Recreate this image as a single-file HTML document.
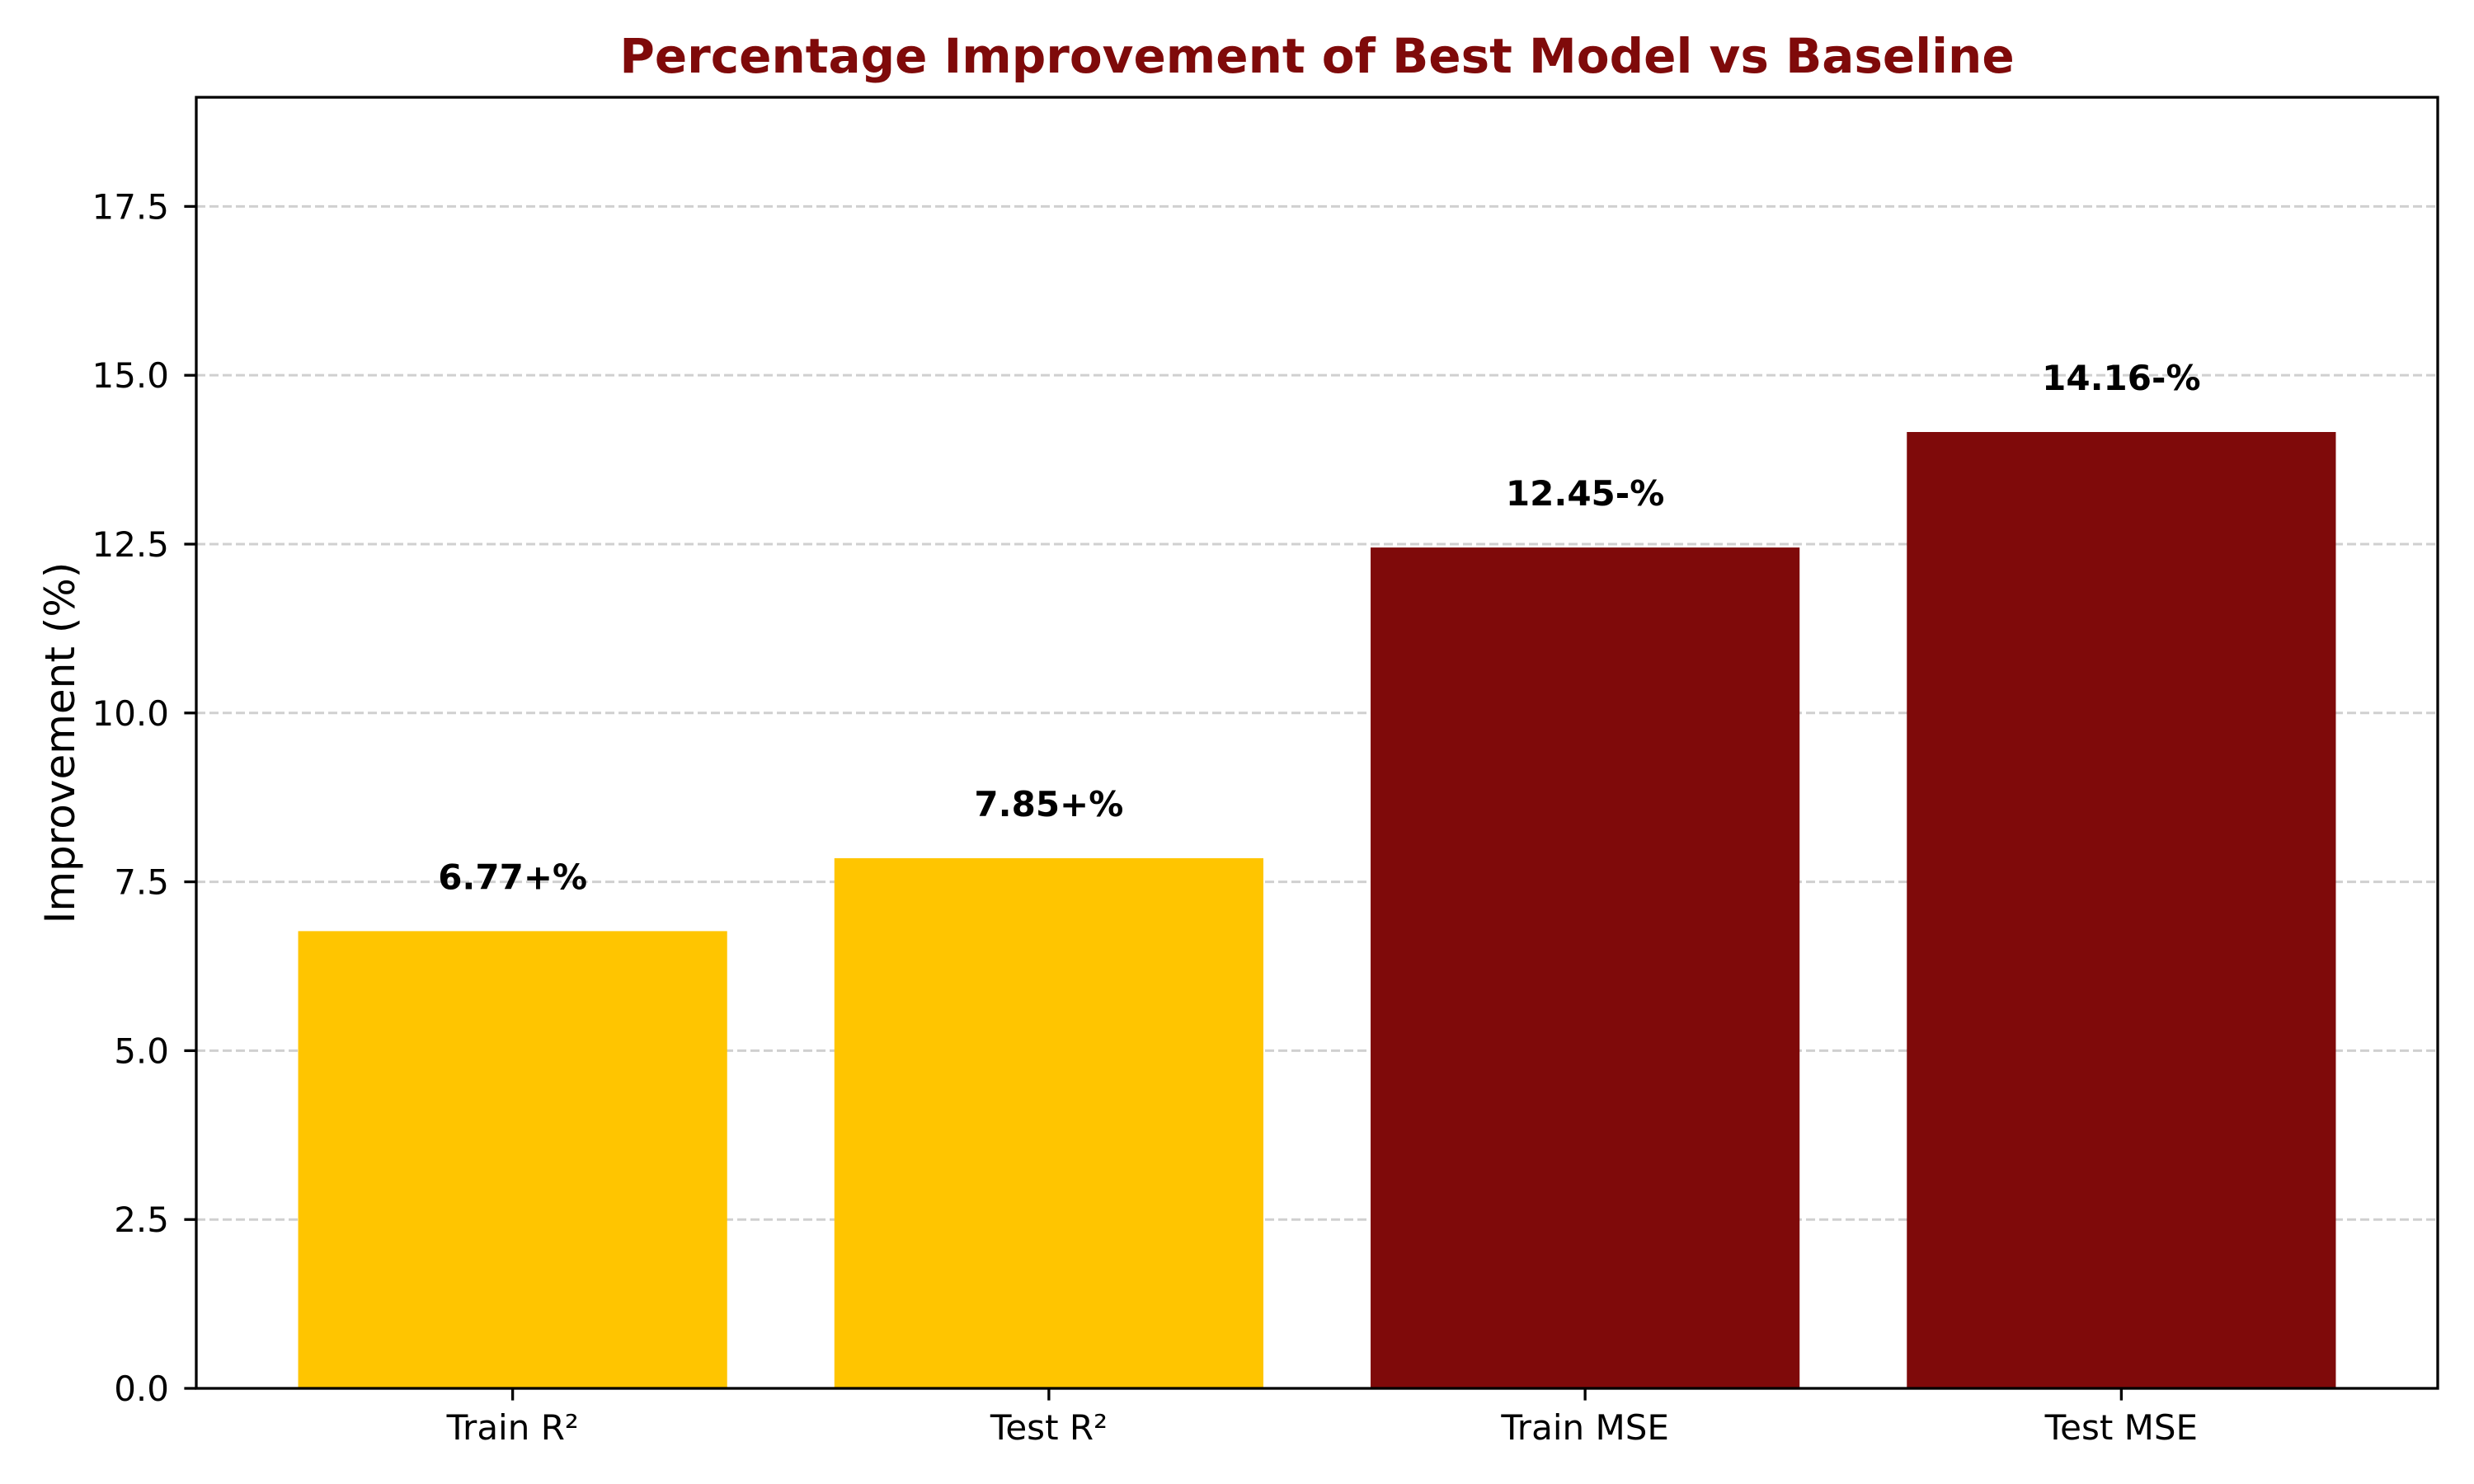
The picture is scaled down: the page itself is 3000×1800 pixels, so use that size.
<!DOCTYPE html>
<html><head><meta charset="utf-8"><style>html,body{margin:0;padding:0;background:#fff}svg{display:block}</style></head>
<body>
<svg id="chart" width="3000" height="1800" xmlns="http://www.w3.org/2000/svg" font-family="DejaVu Sans, Liberation Sans, sans-serif">
<rect width="3000" height="1800" fill="#fff"/>
<text x="1597" y="88" text-anchor="middle" font-size="58" font-weight="bold" fill="#7f0a0a">Percentage Improvement of Best Model vs Baseline</text>
<text transform="translate(90,901) rotate(-90)" text-anchor="middle" font-size="50">Improvement (%)</text>
<g id="grid"></g><g id="bars"></g><g id="labels"></g><g id="axes"></g>
</svg>
<script>
const categories = ["Train R²", "Test R²", "Train MSE", "Test MSE"];
const values = [6.77, 7.85, 12.45, 14.16];
const valueLabels = ["6.77+%", "7.85+%", "12.45-%", "14.16-%"];
const barColors = ["#ffc500", "#ffc500", "#7f0a0a", "#7f0a0a"];
const yTicks = [0, 2.5, 5, 7.5, 10, 12.5, 15, 17.5];
const yTickLabels = ["0.0", "2.5", "5.0", "7.5", "10.0", "12.5", "15.0", "17.5"];

const NS = "http://www.w3.org/2000/svg";
const L = 238, R = 2956, T = 118, B = 1684;
const yMax = Math.max(...values) * 1.35;
const xMin = -0.59, xMax = categories.length - 1 + 0.59;
const xs = v => L + (v - xMin) / (xMax - xMin) * (R - L);
const ys = v => B - v / yMax * (B - T);
const bw = 0.8;
function mk(tag, attrs, parent, txt) {
  const e = document.createElementNS(NS, tag);
  for (const k in attrs) e.setAttribute(k, attrs[k]);
  if (txt !== undefined) e.textContent = txt;
  parent.appendChild(e);
  return e;
}
const grid = document.getElementById('grid'), bars = document.getElementById('bars'),
      labels = document.getElementById('labels'), axes = document.getElementById('axes');
yTicks.forEach((t, i) => {
  const y = ys(t);
  if (t > 0) {
    const g = mk('line', {x1: L, x2: R, y1: y, y2: y, stroke: '#d0d0d0', 'stroke-width': 3, 'stroke-dasharray': '11,5'}, grid);
    
    
  }
  const tk = mk('line', {x1: L - 14.6, x2: L, y1: y, y2: y, stroke: '#000', 'stroke-width': 3.3}, axes);
  
  
  const tl = mk('text', {x: L - 33, y: y + 15, 'text-anchor': 'end', 'font-size': 42}, axes, yTickLabels[i]);
  
  
});
categories.forEach((c, i) => {
  const x0 = xs(i - bw / 2), x1 = xs(i + bw / 2), y = ys(values[i]);
  const b = mk('rect', {x: x0, y: y, width: x1 - x0, height: B - y, fill: barColors[i]}, bars);
  
  
  const vl = mk('text', {x: xs(i), y: ys(values[i] + 0.5) - 10, 'text-anchor': 'middle', 'font-size': 42, 'font-weight': 'bold'}, labels, valueLabels[i]);
  
  
  const tk = mk('line', {x1: xs(i), x2: xs(i), y1: B, y2: B + 14.6, stroke: '#000', 'stroke-width': 3.3}, axes);
  
  
  const xl = mk('text', {x: xs(i), y: B + 62, 'text-anchor': 'middle', 'font-size': 42}, axes, c);
  
  
});
const frame = mk('rect', {x: L, y: T, width: R - L, height: B - T, fill: 'none', stroke: '#000', 'stroke-width': 3.3}, axes);


</script>
</body></html>
